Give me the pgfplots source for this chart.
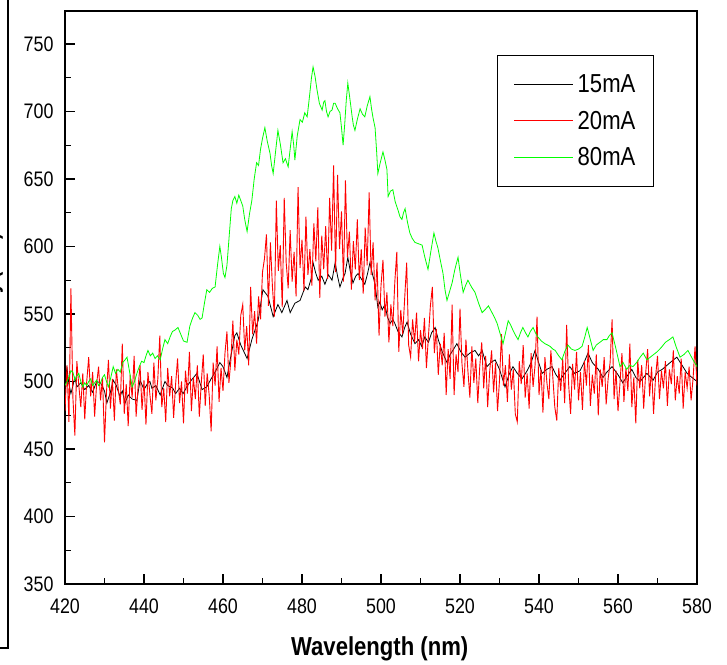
\documentclass[border=0pt]{standalone}
\usepackage{fontspec}
\setmainfont[FakeStretch=0.85]{Liberation Sans}
\usepackage{pgfplots}
\usepackage{pgfplotstable}
\pgfplotsset{compat=1.18}

\definecolor{curveRed}{RGB}{255,0,0}
\definecolor{curveGreen}{RGB}{0,255,0}

\begin{document}

% 15 mA
\pgfplotstableread{
x y
420 501
420.5 510
421 498
421.5 491
422 497
422.5 503
423 496
424 499
425 494
426 497
427 492
428 500
429 499
430 493
430.6 484
431.4 491
432.2 501
433 497
433.9 489
434.5 493
435.2 484
436 490
437 487
438.2 486
439 501
440 494
441 499
441.5 500
442 495
443 497
444.1 490
445.3 500
446 497
447.3 495
448 491
449 495
449.9 491
451 497
452 501
453.4 506
454.7 494
455.9 496
457 502
458 507
459.2 514
460 511
461 503
462 519
463 534
463.5 536
464.5 527
465.3 522
466.1 517
467.3 531
468.2 539
468.9 545
470.1 568
471.4 563
472.7 548
473.9 557
474.9 551
476.2 560
477 551
478.2 558
479.5 560
480.8 570
481.5 568
482.3 576
482.8 588
483.5 580
484.1 575
485 578
485.8 572
486.7 579
487.6 575
488.4 588
489 578
489.6 570
490.3 576
490.9 580
491.6 592
492.2 582
492.9 573
493.6 578
494.2 580
495 576
495.9 572
496.6 580
497.2 588
497.8 580
498.5 572
499.2 555
499.7 559
500.3 553
501 557
501.6 548
502.3 543
503 546
503.5 543
504.3 537
505.3 533
506 540
506.6 544
507.5 535
508.6 528
509.5 531
510.3 526
511.1 533
512 529
512.8 536
513.7 540
514.5 531
515.5 522
516.7 514
517.5 520
518.4 524
519.2 528
520.2 522
521.3 518
522.5 521
523.8 523
524.7 519
525.6 523
526.8 511
527.8 514
528.9 516
530 509
531.4 496
532.4 505
533.4 511
534.5 506
535.7 502
537 508
538 514
539 523
539.8 515
540.8 506
542 509
543.3 511
544.3 505
545.3 501
546.5 506
547.8 511
549 506
550.4 508
551.4 514
552.4 521
553.5 514
555 509
556.2 503
557.2 507
558.5 511
560 505
561.2 499
562.3 504
563.5 509
564.5 503
565.6 500
567.3 506
568.9 501
570 507
571.2 509
572.4 512
573.6 515
574.9 518
576 513
577.5 506
578.7 503
580 500
}\seriesA

% 20 mA
\pgfplotstableread{
x y
420.0 478
420.5 512
421.0 470
421.5 569
422.0 488
422.5 460
423.0 515
423.5 497
424.0 481
424.5 506
425.0 472
425.5 500
426.0 518
426.5 489
427.0 507
427.5 474
428.0 498
428.5 511
429.0 486
429.5 503
430.0 455
430.5 492
431.0 516
431.5 480
432.0 502
432.5 471
433.0 509
433.5 494
434.0 483
434.5 528
435.0 476
435.5 498
436.0 467
436.5 505
437.0 488
437.5 519
438.0 474
438.5 496
439.0 512
439.5 479
440.0 501
440.5 468
441.0 507
441.5 490
442.0 476
442.5 514
443.0 486
443.5 502
444.0 534
444.5 481
445.0 495
445.5 470
446.0 510
446.5 489
447.0 504
447.5 473
448.0 498
448.5 517
449.0 484
449.5 500
450.0 469
450.5 508
451.0 491
451.5 522
452.0 478
452.5 503
453.0 487
453.5 512
454.0 474
454.5 499
455.0 520
455.5 482
456.0 506
456.5 490
457.0 463
457.5 514
458.0 497
458.5 526
459.0 485
459.5 510
460.0 493
460.5 521
461.0 537
461.5 499
462.0 516
462.5 545
463.0 508
463.5 531
464.0 520
464.5 549
465.0 557
465.5 523
466.0 541
466.5 512
467.0 570
467.5 535
468.0 552
468.5 528
469.0 563
469.5 546
470.0 581
470.5 591
471.0 609
471.5 556
472.0 603
472.5 571
473.0 548
473.5 634
474.0 582
474.5 601
475.0 555
475.5 636
476.0 588
476.5 569
477.0 612
477.5 574
478.0 596
478.5 563
479.0 644
479.5 584
480.0 605
480.5 567
481.0 622
481.5 579
482.0 598
482.5 571
483.0 617
483.5 589
484.0 629
484.5 562
485.0 608
485.5 583
486.0 615
486.5 576
487.0 636
487.5 597
488.0 660
488.5 581
489.0 653
489.5 598
490.0 626
490.5 574
491.0 649
491.5 592
492.0 611
492.5 568
493.0 604
493.5 583
494.0 620
494.5 575
495.0 598
495.5 565
496.0 614
496.5 586
497.0 640
497.5 579
498.0 603
498.5 560
499.0 588
499.5 534
500.0 571
500.5 590
501.0 548
501.5 566
502.0 529
502.5 557
503.0 541
503.5 574
504.0 596
504.5 522
505.0 553
505.5 535
506.0 562
506.5 588
507.0 527
507.5 518
508.0 546
508.5 529
509.0 551
509.5 515
510.0 538
510.5 524
511.0 547
511.5 510
512.0 533
512.5 556
513.0 570
513.5 521
514.0 539
514.5 505
515.0 528
515.5 512
516.0 536
516.5 490
517.0 524
517.5 502
518.0 557
518.5 490
519.0 520
519.5 507
520.0 554
520.5 513
521.0 496
521.5 531
522.0 508
522.5 488
523.0 526
523.5 499
524.0 517
524.5 484
525.0 511
525.5 529
526.0 495
526.5 519
527.0 481
527.5 507
528.0 523
528.5 492
529.0 514
529.5 478
530.0 501
530.5 535
531.0 497
531.5 512
532.0 485
532.5 520
533.0 494
533.5 509
534.0 476
534.5 470
535.0 515
535.5 498
536.0 527
536.5 488
537.0 506
537.5 480
538.0 521
538.5 496
539.0 512
539.5 548
540.0 490
540.5 509
541.0 477
541.5 518
542.0 499
542.5 487
543.0 523
543.5 503
544.0 481
544.5 471
545.0 510
545.5 493
546.0 517
546.5 484
547.0 542
547.5 498
548.0 476
548.5 513
549.0 494
549.5 522
550.0 486
550.5 507
551.0 479
551.5 515
552.0 497
552.5 527
553.0 482
553.5 505
554.0 491
554.5 520
555.0 475
555.5 509
556.0 496
556.5 518
557.0 483
557.5 502
558.0 514
558.5 546
559.0 487
559.5 508
560.0 478
560.5 499
561.0 521
561.5 485
562.0 510
562.5 493
563.0 528
563.5 481
564.0 503
564.5 469
565.0 516
565.5 495
566.0 512
566.5 480
567.0 506
567.5 524
568.0 489
568.5 511
569.0 476
569.5 503
570.0 519
570.5 487
571.0 508
571.5 495
572.0 515
572.5 482
573.0 509
573.5 498
574.0 523
574.5 486
575.0 504
575.5 491
576.0 517
576.5 480
577.0 507
577.5 495
578.0 511
578.5 486
579.0 502
579.5 526
580.0 497
}\seriesB

% 80 mA
\pgfplotstableread{
x y
420 497
420.5 500
421 503
421.5 508
422 507
422.5 501
423 504
423.5 506
424 500
424.5 496
425 499
425.5 497
426 500
426.5 502
427 497
427.5 499
428 501
428.5 497
429 499
429.5 503
430 505
430.5 500
431 496
431.6 503
432.2 511
432.8 506
433.4 509
434 507
434.6 514
435.2 516
435.7 518
436.3 508
437 496
437.6 500
438.2 506
438.8 511
439.4 515
440 514
440.5 519
441 523
441.6 519
442.2 521
442.8 517
443.4 519
444.1 516
444.7 524
445.3 531
446 528
446.6 533
447.2 537
447.8 538
448.6 540
449.3 535
450 530
450.9 529
451.6 541
452.3 547
452.9 551
453.6 549
454.2 546
454.7 547
455.3 558
455.9 568
456.6 566
457.3 569
458 570
458.6 586
459.2 600
459.6 592
460.1 580
460.5 577
461 586
461.6 609
462.1 628
462.5 634
463 637
463.5 632
464 638
464.5 634
465 630
465.5 620
466.1 611
466.7 624
467.3 634
467.9 650
468.5 662
469 660
469.5 672
470 680
470.6 688
471.2 678
471.9 669
472.3 660
472.7 654
473.3 670
473.9 686
474.5 676
475.2 662
475.8 665
476.5 659
477 672
477.5 685
477.9 675
478.2 664
478.8 682
479.5 694
480.1 692
480.7 699
481.3 696
481.7 706
482 714
482.4 725
482.8 733
483.3 726
483.8 716
484.4 706
485.1 701
485.5 707
485.8 708
486.2 700
486.6 696
487.1 700
487.6 701
488 706
488.4 706
489 702
489.6 699
490 688
490.4 675
490.8 690
491.2 708
491.6 721
492.1 710
492.7 696
493 690
493.4 686
494 694
494.7 702
495.3 698
495.9 696
496.5 704
497.2 711
497.6 702
498 695
498.5 688
498.9 670
499.2 654
499.8 662
500.5 670
501 664
501.5 657
501.8 637
502.4 641
503 642
503.6 633
504.3 627
504.8 622
505.3 620
505.7 625
506.1 628
506.7 618
507.3 610
507.9 606
508.6 603
509.5 602
510.4 601
511.1 592
511.9 583
512.6 596
513.4 610
513.9 604
514.4 599
515 590
515.7 580
516.2 568
516.7 560
517.3 566
518 573
518.7 583
519.5 592
520.1 579
520.8 566
521.4 571
522 575
522.9 570
523.8 566
524.7 558
525.6 551
526.3 553
527.2 556
528.1 551
528.8 547
529.4 543
530.1 536
530.9 528
531.6 537
532.2 545
532.8 542
533.4 538
534.1 534
534.7 531
535.3 536
535.9 540
536.6 536
537.2 533
537.8 537
538.5 540
539.1 536
539.7 533
540.6 530
541.5 528
542.2 527
542.8 526
543.5 524
544.1 523
545 519
545.8 516
546.5 522
547.3 527
548.2 524
549.1 523
550 524
550.9 526
551.6 533
552.2 540
553 531
553.7 523
554.5 527
555.4 529
556.3 531
557.2 531
557.8 534
558.5 536
559.5 524
560.5 511
561.3 514
562.2 509
563 512
563.8 511
564.7 514
565.6 518
566.4 521
567.3 516
568.6 519
569.9 522
570.9 525
572 529
573 531
573.9 533
574.8 525
575.7 518
576.7 520
577.7 523
578.8 517
580 511
}\seriesC

\begin{tikzpicture}[x=1pt,y=1pt]
\clip (0,0) rectangle (727,664);
% outer frame edge
\draw[line width=1.3pt] (0,16) -- (8,16) -- (8,665);
% y-axis title (mostly outside the page)
\node[rotate=90, anchor=base, font=\fontsize{22}{22}\selectfont\bfseries, inner sep=0pt]
  at (-1.5,367) {Intensity (a.u.)};
\begin{axis}[
  at={(65pt,80pt)}, anchor=south west,
  width=632pt, height=573pt, scale only axis,
  xmin=420, xmax=580, ymin=350, ymax=774.4,
  xtick={420,440,...,580}, ytick={350,400,...,750},
  minor x tick num=1, minor y tick num=1,
  xtick pos=bottom, ytick pos=left,
  tick align=inside,
  major tick length=10pt, minor tick length=6pt,
  axis line style={line width=1.6pt},
  every tick/.style={line width=1.4pt, black},
  /pgf/number format/assume math mode=true,
  /pgf/number format/set thousands separator={},
  ticklabel style={font=\fontsize{21}{21}\selectfont},
  xticklabel style={yshift=-11pt},
  yticklabel style={xshift=-8pt},
  xlabel={Wavelength (nm)},
  xlabel style={font=\fontsize{26}{26}\selectfont\bfseries, at={(axis description cs:0.498,-0.113)}, anchor=center},
  legend style={at={(axis description cs:0.684,0.923)}, anchor=north west,
    draw=black, line width=1pt, inner xsep=16pt, inner ysep=17pt,
    font=\fontsize{26}{30}\selectfont, row sep=13pt,
    /tikz/every odd column/.append style={column sep=2pt}},
  legend cell align=left,
  legend image code/.code={\draw[#1] (0pt,0pt) -- (59pt,0pt);},
]
\addplot[black, line width=0.8pt] table[x=x,y=y] {\seriesA};
\addlegendentry{15mA}
\addplot[curveRed, line width=0.9pt] table[x=x,y=y] {\seriesB};
\addlegendentry{20mA}
\addplot[curveGreen, line width=0.8pt] table[x=x,y=y] {\seriesC};
\addlegendentry{80mA}
\end{axis}
\end{tikzpicture}
\end{document}
